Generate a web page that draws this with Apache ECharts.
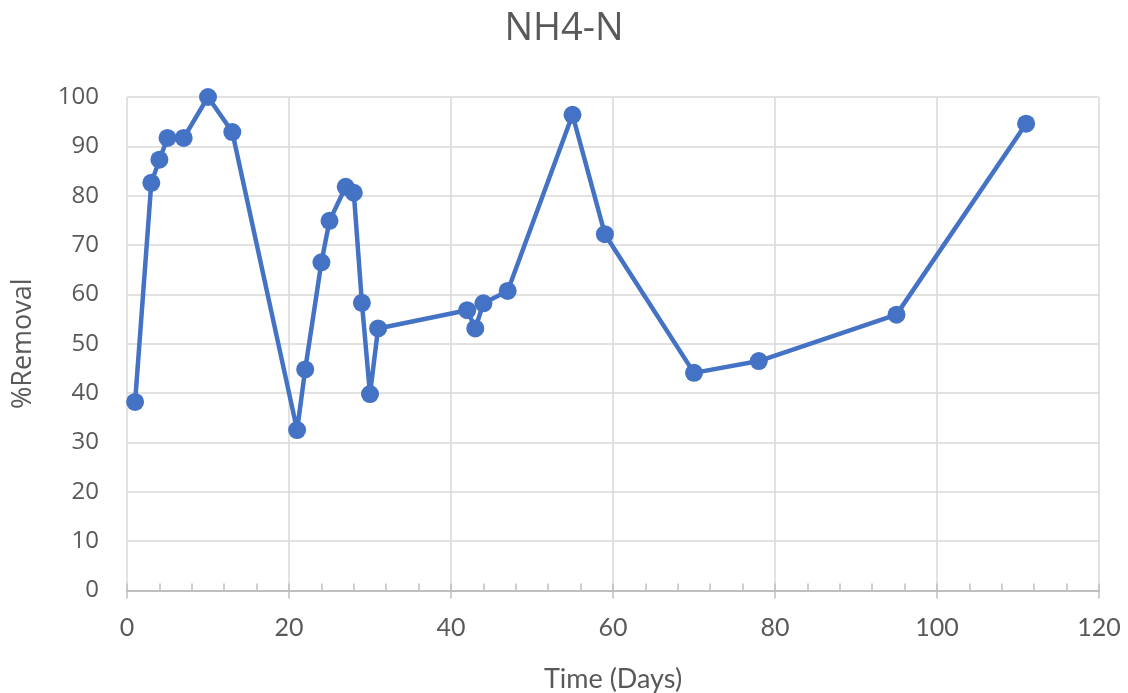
<!DOCTYPE html>
<html>
<head>
<meta charset="utf-8">
<script src="https://cdn.jsdelivr.net/npm/echarts@6/dist/echarts.min.js"></script>
<style>
  html, body { margin: 0; padding: 0; background: #fff; }
  #chart { width: 1128px; height: 693px; }
</style>
</head>
<body>
<div id="chart"></div>
<script>
// Sampling day of each measurement
const days = [1, 3, 4, 5, 7, 10, 13, 21, 22, 24, 25, 27, 28, 29, 30, 31,
              42, 43, 44, 47, 55, 59, 70, 78, 95, 111];
// NH4-N removal efficiency (%)
const removal = [38.2, 82.6, 87.3, 91.7, 91.7, 100, 92.9, 32.5, 44.8, 66.5, 74.9, 81.8, 80.6, 58.3, 39.8, 53.1,
                 56.8, 53.1, 58.2, 60.7, 96.4, 72.2, 44.1, 46.5, 55.9, 94.6];

const chartTitle = 'NH4-N';
const xName = 'Time (Days)';
const yName = '%Removal';

const points = days.map((d, i) => [d, removal[i]]);

const textColor = '#595959';
const gridColor = '#d9d9d9';
const axisColor = '#bfbfbf';

const chart = echarts.init(document.getElementById('chart'), null, { renderer: 'canvas' });
chart.setOption({
  backgroundColor: '#ffffff',
  animation: false,
  title: {
    text: chartTitle,
    left: 'center',
    top: 5,
    textStyle: { fontFamily: 'Open Sans', fontSize: 38, fontWeight: 'normal', color: textColor }
  },
  grid: { left: 127, right: 29, top: 97, bottom: 102.5, containLabel: false, outerBoundsMode: 'none' },
  xAxis: [
    {
      type: 'value',
      position: 'bottom',
      min: 0, max: 120, interval: 20,
      name: xName,
      nameLocation: 'middle',
      nameGap: 75,
      nameTextStyle: { fontFamily: 'Lato', fontSize: 27, color: textColor },
      axisLine: { show: true, lineStyle: { color: axisColor, width: 2 } },
      axisTick: { show: true, inside: false, length: 8, lineStyle: { color: axisColor, width: 1.5 } },
      axisLabel: { margin: 25, fontFamily: 'Lato', fontSize: 25, color: textColor },
      splitLine: { show: true, lineStyle: { color: gridColor, width: 1.5 } }
    },
    {
      // minor ticks pointing into the plot
      type: 'value',
      position: 'bottom',
      min: 0, max: 120, interval: 4,
      axisLine: { show: false },
      axisTick: { show: true, inside: true, length: 7, lineStyle: { color: axisColor, width: 1.5 } },
      axisLabel: { show: false },
      splitLine: { show: false }
    }
  ],
  yAxis: {
    type: 'value',
    min: 0, max: 100, interval: 10,
    name: yName,
    nameLocation: 'middle',
    nameGap: 90,
    nameTextStyle: { fontFamily: 'Open Sans', fontSize: 27, color: textColor },
    axisLine: { show: false },
    axisTick: { show: false },
    axisLabel: { margin: 28, fontFamily: 'Open Sans', fontSize: 24, color: textColor },
    splitLine: { show: true, lineStyle: { color: gridColor, width: 1.5 } }
  },
  series: [{
    type: 'line',
    xAxisIndex: 0,
    data: points,
    symbol: 'circle',
    symbolSize: 18,
    lineStyle: { color: '#4472C4', width: 4.5 },
    itemStyle: { color: '#4472C4' }
  }]
});
</script>
</body>
</html>
